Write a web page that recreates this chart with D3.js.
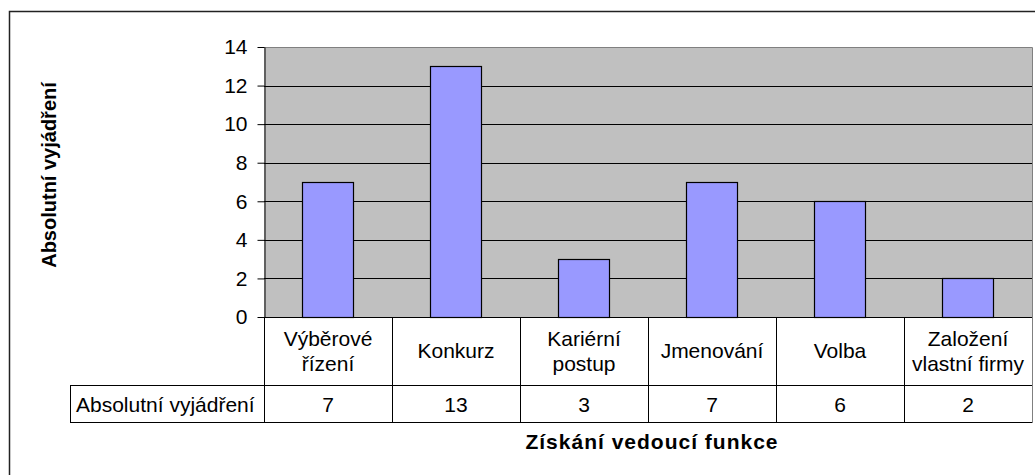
<!DOCTYPE html>
<html>
<head>
<meta charset="utf-8">
<script src="https://cdn.jsdelivr.net/npm/d3@7"></script>
<style>
  body { margin: 0; background: #fff; }
  text { font-family: "Liberation Sans", Arial, sans-serif; fill: #000; }
</style>
</head>
<body>
<div id="chart"></div>
<script>
// donnees du graphe
const categories = ["Výběrové\nřízení", "Konkurz", "Kariérní\npostup", "Jmenování", "Volba", "Založení\nvlastní firmy"];
const values = [7, 13, 3, 7, 6, 2];
const yTicks = [0, 2, 4, 6, 8, 10, 12, 14];
const seriesName = "Absolutní vyjádření";
const yTitle = "Absolutní vyjádření";
const xTitle = "Získání vedoucí funkce";

const width = 1035, height = 475;
const plot = { left: 264, right: 1032, top: 47, bottom: 317 };
const rowLabel = 385, rowValue = 422, headerLeft = 70;

const svg = d3.select("#chart").append("svg")
    .attr("width", width)
    .attr("height", height);

// cadre exterieur
svg.append("rect")
    .attr("x", 9.5).attr("y", 11.5)
    .attr("width", 1040).attr("height", 480)
    .attr("fill", "none").attr("stroke", "#222").attr("stroke-width", 1.5);

const x = d3.scaleBand()
    .domain(categories)
    .range([plot.left, plot.right])
    .paddingInner(0.6)
    .paddingOuter(0.3);

const cols = d3.scaleBand()
    .domain(categories)
    .range([plot.left, plot.right]);

const y = d3.scaleLinear()
    .domain([0, 14])
    .range([plot.bottom, plot.top]);

// zone de trace
svg.append("rect")
    .attr("x", plot.left).attr("y", plot.top)
    .attr("width", plot.right - plot.left).attr("height", plot.bottom - plot.top)
    .attr("fill", "#c0c0c0");

svg.append("g")
    .selectAll("line")
    .data(yTicks.filter(d => d > 0 && d < 14))
    .join("line")
    .attr("x1", plot.left).attr("x2", plot.right)
    .attr("y1", d => Math.round(y(d)) + 0.5).attr("y2", d => Math.round(y(d)) + 0.5)
    .attr("stroke", "#000");

// bord haut et droit gris
svg.append("path")
    .attr("d", `M${plot.left},${plot.top + 0.5}H${plot.right + 0.5}V${plot.bottom}`)
    .attr("fill", "none").attr("stroke", "#808080");

// barres
svg.append("g")
    .selectAll("rect")
    .data(values)
    .join("rect")
    .attr("x", (d, i) => Math.round(x(categories[i])) + 0.5)
    .attr("y", d => Math.round(y(d)) + 0.5)
    .attr("width", Math.round(x.bandwidth()))
    .attr("height", d => Math.round(y(0)) - Math.round(y(d)))
    .attr("fill", "#9999ff")
    .attr("stroke", "#000")
    .attr("stroke-width", 1.2);

// axe y
const yAxis = svg.append("g")
    .attr("transform", `translate(${plot.left + 0.5},0)`)
    .call(d3.axisLeft(y).tickValues(yTicks).tickSize(7).tickPadding(10).tickSizeOuter(0));
yAxis.select(".domain").attr("stroke", "#000");
yAxis.selectAll(".tick line").attr("stroke", "#000");
yAxis.selectAll(".tick text")
    .attr("font-size", 21)
    .attr("font-family", "Liberation Sans, Arial, sans-serif");

// tableau de donnees
const table = svg.append("g").attr("stroke", "#000").attr("fill", "none");
table.append("line")
    .attr("x1", plot.left).attr("x2", plot.right)
    .attr("y1", plot.bottom + 0.5).attr("y2", plot.bottom + 0.5);
table.append("line")
    .attr("x1", headerLeft).attr("x2", plot.right)
    .attr("y1", rowLabel + 0.5).attr("y2", rowLabel + 0.5);
table.append("line")
    .attr("x1", headerLeft).attr("x2", plot.right)
    .attr("y1", rowValue + 0.5).attr("y2", rowValue + 0.5);
table.append("line")
    .attr("x1", headerLeft + 0.5).attr("x2", headerLeft + 0.5)
    .attr("y1", rowLabel).attr("y2", rowValue + 1);
table.selectAll(".vline")
    .data(categories.concat(["end"]))
    .join("line")
    .attr("class", "vline")
    .attr("x1", (d, i) => Math.round(plot.left + i * cols.step()) + 0.5)
    .attr("x2", (d, i) => Math.round(plot.left + i * cols.step()) + 0.5)
    .attr("y1", plot.bottom).attr("y2", rowValue + 1)
    .attr("stroke", (d, i) => i === categories.length ? "#808080" : "#000");

// etiquettes des categories
const mid = (plot.bottom + rowLabel) / 2 + 7;
svg.append("g")
    .selectAll("text")
    .data(categories)
    .join("text")
    .attr("x", d => cols(d) + cols.bandwidth() / 2)
    .attr("y", d => d.includes("\n") ? mid - 12.5 : mid)
    .attr("text-anchor", "middle")
    .attr("font-size", 21)
    .selectAll("tspan")
    .data(d => d.split("\n"))
    .join("tspan")
    .attr("x", function () { return this.parentNode.getAttribute("x"); })
    .attr("dy", (d, i) => i === 0 ? 0 : 25)
    .text(d => d);

// valeurs
svg.append("g")
    .selectAll("text")
    .data(values)
    .join("text")
    .attr("x", (d, i) => cols(categories[i]) + cols.bandwidth() / 2)
    .attr("y", (rowLabel + rowValue) / 2 + 8)
    .attr("text-anchor", "middle")
    .attr("font-size", 21)
    .text(d => d);

svg.append("text")
    .attr("x", headerLeft + 6)
    .attr("y", (rowLabel + rowValue) / 2 + 8)
    .attr("font-size", 21)
    .text(seriesName);

// titres
svg.append("text")
    .attr("transform", "translate(56,175) rotate(-90)")
    .attr("text-anchor", "middle")
    .attr("font-size", 20)
    .attr("font-weight", "bold")
    .text(yTitle);

svg.append("text")
    .attr("x", 652)
    .attr("y", 449)
    .attr("text-anchor", "middle")
    .attr("font-size", 21)
    .attr("font-weight", "bold")
    .attr("letter-spacing", 1)
    .text(xTitle);
</script>
</body>
</html>
